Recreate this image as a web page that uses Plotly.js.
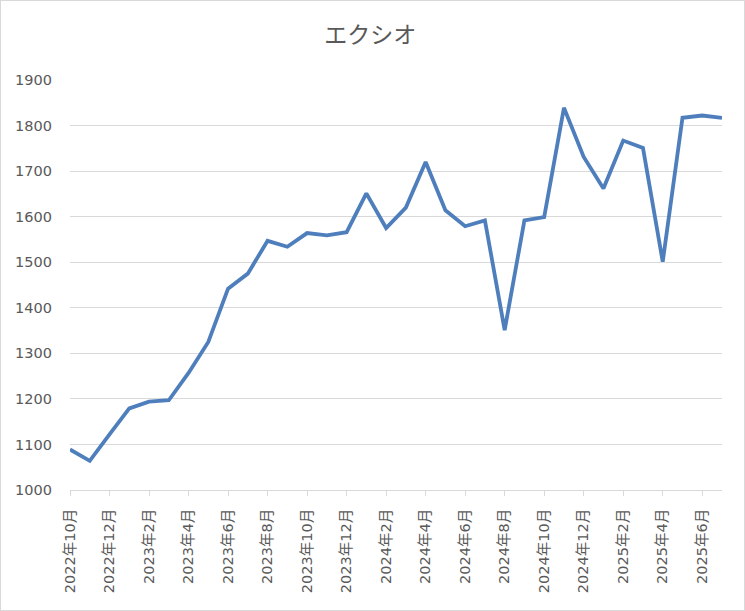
<!DOCTYPE html>
<html>
<head>
<meta charset="utf-8">
<script src="https://cdn.plot.ly/plotly-3.0.1.min.js"></script>
<style>
  html, body { margin: 0; padding: 0; background: #fff; }
  #chart { width: 745px; height: 611px; box-sizing: border-box; border: 1px solid #d9d9d9; }
</style>
</head>
<body>
<div id="chart"></div>
<script>
const months = [
  "2022年10月","2022年11月","2022年12月",
  "2023年1月","2023年2月","2023年3月","2023年4月","2023年5月","2023年6月",
  "2023年7月","2023年8月","2023年9月","2023年10月","2023年11月","2023年12月",
  "2024年1月","2024年2月","2024年3月","2024年4月","2024年5月","2024年6月",
  "2024年7月","2024年8月","2024年9月","2024年10月","2024年11月","2024年12月",
  "2025年1月","2025年2月","2025年3月","2025年4月","2025年5月","2025年6月","2025年7月"
];
const values = [
  1089, 1064, 1122,
  1179, 1194, 1197, 1257, 1325, 1442,
  1475, 1547, 1534, 1564, 1559, 1566,
  1651, 1575, 1620, 1720, 1614, 1579,
  1592, 1351, 1592, 1599, 1839, 1731,
  1662, 1767, 1751, 1501, 1817, 1822, 1817
];
const tickLabels = months.filter((m, i) => i % 2 === 0);
const yTicks = [1000, 1100, 1200, 1300, 1400, 1500, 1600, 1700, 1800, 1900];
const chartTitle = "エクシオ";

const textFont = "'DejaVu Sans', 'Noto Sans CJK JP', sans-serif";

Plotly.newPlot("chart", [{
  x: months,
  y: values,
  type: "scatter",
  mode: "lines",
  line: { color: "#4e7fbc", width: 3.8 },
  hoverinfo: "x+y"
}], {
  width: 743, height: 609,
  margin: { l: 69, r: 22, t: 79, b: 120 },
  paper_bgcolor: "#ffffff",
  plot_bgcolor: "#ffffff",
  showlegend: false,
  title: {
    text: chartTitle,
    x: 0.497, xanchor: "center",
    y: 0.945, yanchor: "middle",
    font: { family: "'Noto Sans CJK JP', sans-serif", size: 23, color: "#595959" }
  },
  xaxis: {
    type: "category",
    categoryorder: "array",
    categoryarray: months,
    range: [0, months.length - 1],
    tickmode: "array",
    tickvals: tickLabels,
    ticktext: tickLabels,
    tickangle: -90,
    ticks: "outside",
    ticklen: 5,
    tickcolor: "#d9d9d9",
    tickwidth: 1,
    showline: true,
    linecolor: "#d9d9d9",
    linewidth: 1,
    showgrid: false,
    zeroline: false,
    ticklabelstandoff: 7,
    tickfont: { family: textFont, size: 14.5, color: "#595959" }
  },
  yaxis: {
    range: [1000, 1900],
    tickmode: "array",
    tickvals: yTicks,
    ticks: "",
    showline: false,
    showgrid: true,
    gridcolor: "#d9d9d9",
    gridwidth: 1.2,
    zeroline: false,
    ticklabelstandoff: 17,
    tickfont: { family: textFont, size: 14.5, color: "#595959" }
  }
}, { displayModeBar: false, staticPlot: true });
</script>
</body>
</html>
